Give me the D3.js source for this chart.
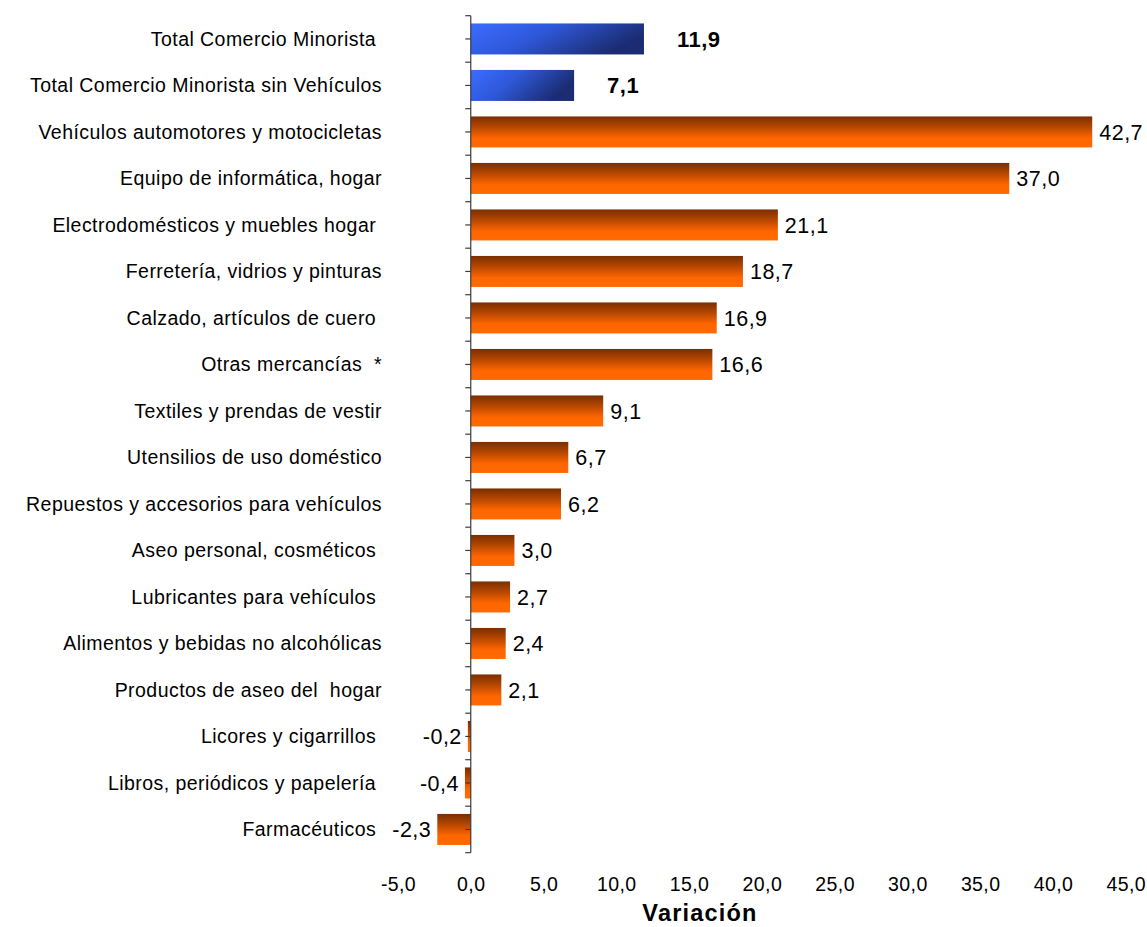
<!DOCTYPE html>
<html>
<head>
<meta charset="utf-8">
<script src="https://cdn.jsdelivr.net/npm/d3@7"></script>
<style>
  html, body { margin: 0; padding: 0; background: #ffffff; }
  svg { display: block; font-family: "Liberation Sans", Arial, sans-serif; }
  text { white-space: pre; }
</style>
</head>
<body>
<svg id="chart" width="1147" height="927"></svg>
<script>
// Variación anual por línea de mercancía (%)
const categories = [
  "Total Comercio Minorista ",
  "Total Comercio Minorista sin Vehículos",
  "Vehículos automotores y motocicletas",
  "Equipo de informática, hogar",
  "Electrodomésticos y muebles hogar ",
  "Ferretería, vidrios y pinturas",
  "Calzado, artículos de cuero ",
  "Otras mercancías  *",
  "Textiles y prendas de vestir",
  "Utensilios de uso doméstico",
  "Repuestos y accesorios para vehículos",
  "Aseo personal, cosméticos ",
  "Lubricantes para vehículos ",
  "Alimentos y bebidas no alcohólicas",
  "Productos de aseo del  hogar",
  "Licores y cigarrillos ",
  "Libros, periódicos y papelería ",
  "Farmacéuticos "
];
const values = [11.9, 7.1, 42.7, 37.0, 21.1, 18.7, 16.9, 16.6, 9.1, 6.7, 6.2, 3.0, 2.7, 2.4, 2.1, -0.2, -0.4, -2.3];
const groups = ["total", "total", "linea", "linea", "linea", "linea", "linea", "linea", "linea",
                "linea", "linea", "linea", "linea", "linea", "linea", "linea", "linea", "linea"];
const xTicks = [-5, 0, 5, 10, 15, 20, 25, 30, 35, 40, 45];
const xTitle = "Variación";

const rows = categories.map((c, i) => ({ category: c, value: values[i], group: groups[i] }));

const svg = d3.select("#chart");
const fmt = v => d3.format(".1f")(v).replace(".", ",").replace("−", "-");

const x = d3.scaleLinear().domain([-5, 45]).range([398, 1125.7]);
const y = d3.scaleBand()
  .domain(categories)
  .range([15.7, 852.7])
  .paddingInner(1 / 3)
  .paddingOuter(1 / 6);

// gradients
const defs = svg.append("defs");
const gBlue = defs.append("linearGradient").attr("id", "gradTotal")
  .attr("x1", 0).attr("y1", 0).attr("x2", 1).attr("y2", 0.35);
gBlue.append("stop").attr("offset", 0).attr("stop-color", "#3a6dff");
gBlue.append("stop").attr("offset", 0.45).attr("stop-color", "#2f58da");
gBlue.append("stop").attr("offset", 1).attr("stop-color", "#1b2c72");

const gOrange = defs.append("linearGradient").attr("id", "gradLinea")
  .attr("x1", 0).attr("y1", 0).attr("x2", 0).attr("y2", 1);
gOrange.append("stop").attr("offset", 0).attr("stop-color", "#7a2e00");
gOrange.append("stop").attr("offset", 0.35).attr("stop-color", "#b84800");
gOrange.append("stop").attr("offset", 0.7).attr("stop-color", "#ff6600");
gOrange.append("stop").attr("offset", 1).attr("stop-color", "#ff6a00");

// bars
svg.append("g").selectAll("rect")
  .data(rows)
  .join("rect")
  .attr("x", d => x(Math.min(0, d.value)))
  .attr("y", d => y(d.category))
  .attr("width", d => Math.abs(x(d.value) - x(0)))
  .attr("height", y.bandwidth())
  .attr("fill", d => d.group === "total" ? "url(#gradTotal)" : "url(#gradLinea)");

// vertical axis line with half-step tick marks
const axisG = svg.append("g");
const y0 = y.range()[0], y1 = y.range()[1];
axisG.append("line")
  .attr("x1", x(0)).attr("x2", x(0))
  .attr("y1", y0).attr("y2", y1)
  .attr("stroke", "#3c3c3c").attr("stroke-width", 1.2);
const half = y.step() / 2;
const tickYs = d3.range(0, categories.length * 2 + 1).map(k => y0 + k * half);
axisG.selectAll("line.tick")
  .data(tickYs)
  .join("line")
  .attr("class", "tick")
  .attr("x1", x(0) - 5.5).attr("x2", x(0))
  .attr("y1", d => d).attr("y2", d => d)
  .attr("stroke", "#3c3c3c").attr("stroke-width", 1.2);

// category labels
svg.append("g").selectAll("text")
  .data(rows)
  .join("text")
  .attr("x", 382)
  .attr("y", d => y(d.category) + y.bandwidth() / 2)
  .attr("dy", "0.36em")
  .attr("text-anchor", "end")
  .attr("font-size", 19.5)
  .attr("letter-spacing", 0.45)
  .attr("fill", "#000")
  .text(d => d.category);

// value labels
svg.append("g").selectAll("text")
  .data(rows)
  .join("text")
  .attr("x", d => d.value < 0 ? x(d.value) - 6 : x(d.value) + (d.group === "total" ? 33 : 7))
  .attr("y", d => y(d.category) + y.bandwidth() / 2)
  .attr("dy", "0.36em")
  .attr("text-anchor", d => d.value < 0 ? "end" : "start")
  .attr("font-size", d => d.group === "total" ? 22 : 21.5)
  .attr("font-weight", d => d.group === "total" ? "bold" : "normal")
  .attr("letter-spacing", 0.5)
  .attr("fill", "#000")
  .text(d => fmt(d.value));

// horizontal axis tick labels (no axis line)
const xAxis = d3.axisBottom(x).tickValues(xTicks).tickSize(0).tickFormat(fmt);
const xg = svg.append("g").attr("transform", "translate(0,874)").call(xAxis);
xg.select(".domain").remove();
xg.selectAll("text")
  .attr("font-family", "'Liberation Sans', Arial, sans-serif")
  .attr("font-size", 19.5)
  .attr("letter-spacing", 0.4)
  .attr("fill", "#000")
  .attr("dy", "0.71em");

// axis title
svg.append("text")
  .attr("x", 700)
  .attr("y", 921)
  .attr("text-anchor", "middle")
  .attr("font-size", 23.5)
  .attr("font-weight", "bold")
  .attr("letter-spacing", 1.2)
  .attr("fill", "#000")
  .text(xTitle);
</script>
</body>
</html>
